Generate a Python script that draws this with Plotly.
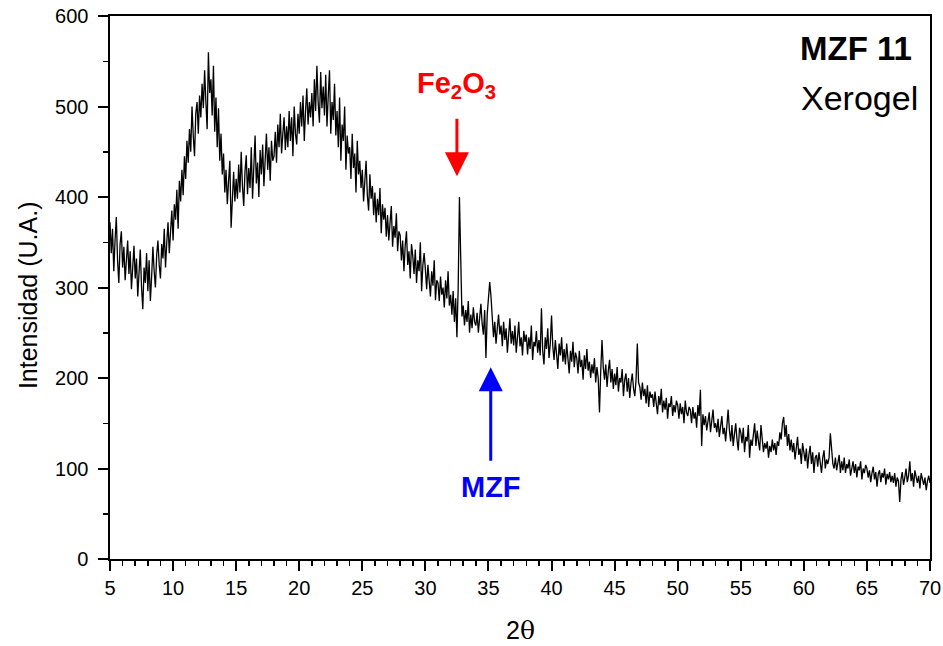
import numpy as np
import plotly.graph_objects as go

# 2-theta grid (instrument step)
two_theta_start = 5.0
two_theta_step = 0.1

# Intensity readings (U.A.), one row per degree of 2θ, 0.1° apart
intensity_05_20 = [
    372, 338, 365, 318, 352, 378, 330, 305, 348, 362,
    322, 345, 308, 336, 352, 315, 340, 298, 328, 346,
    310, 332, 290, 318, 342, 300, 276, 322, 305, 338,
    296, 330, 285, 312, 345, 318, 300, 336, 352, 325,
    310, 348, 332, 365, 322, 350, 372, 338, 360, 385,
    352, 392, 375, 408, 365, 418, 395, 430, 402, 445,
    420, 462, 438, 475, 450, 500, 468, 445, 492, 505,
    470, 512, 488, 525, 498, 540, 505, 475, 560, 515,
    530, 490, 545, 472, 510, 455, 498, 440, 470, 425,
    448, 405, 430, 392, 418, 440, 366, 402, 428, 395,
    420, 398, 436, 405, 450, 412, 390, 428, 446, 403,
    432, 410, 455, 398, 440, 468, 415, 438, 400, 452,
    425, 458, 412, 446, 470, 430, 455, 418, 462, 440,
    445, 472, 438, 480, 455, 492, 448, 470, 488, 452,
    478, 455, 495, 462, 488, 445, 500, 470, 458, 492,
]
intensity_20_35 = [
    470, 505, 478, 512, 462, 495, 520, 480, 505, 488,
    515, 478, 530, 495, 545, 505, 482, 538, 498, 522,
    490, 535, 478, 512, 540, 470, 505, 485, 525, 468,
    495, 455, 510, 440, 480, 462, 500, 430, 468, 448,
    455, 420, 470, 432, 448, 405, 462, 425, 440, 410,
    430, 395, 418, 440, 402, 385, 425, 398, 412, 380,
    405, 372, 398, 380, 410, 360, 392, 375, 388, 356,
    380, 352, 372, 390, 345, 368, 355, 382, 340, 362,
    358, 330, 352, 318, 346, 362, 325, 340, 310, 348,
    335, 315, 342, 305, 330, 318, 350, 296, 325, 338,
    320, 298, 325, 306, 290, 318, 302, 330, 286, 308,
    305, 285, 312, 292, 300, 278, 308, 288, 318, 280,
    292, 270, 296, 262, 288, 245, 300, 400, 328, 268,
    280, 258, 275, 262, 285, 250, 270, 255, 278, 262,
    258, 272, 250, 268, 282, 260, 248, 275, 222, 270,
]
intensity_35_50 = [
    295, 306, 290, 268, 245, 262, 238, 255, 270, 248,
    258, 235, 262, 242, 255, 228, 250, 266, 238, 252,
    236, 258, 228, 248, 262, 235, 245, 225, 252, 240,
    248, 226, 245, 232, 258, 220, 240, 235, 252, 228,
    242, 225, 277, 230, 215, 245, 232, 255, 222, 238,
    269, 235, 220, 242, 228, 210, 238, 225, 245, 218,
    232, 215, 238, 222, 205, 230, 218, 240, 212, 228,
    222, 205, 230, 212, 220, 198, 225, 210, 232, 208,
    218, 200, 215, 205, 222, 195, 212, 200, 162, 208,
    242, 212, 198, 215, 190, 208, 220, 195, 210, 188,
    205, 192, 212, 185, 200, 195, 210, 180, 198, 205,
    185, 200, 178, 195, 205, 188, 180, 198, 238, 195,
    190, 176, 195, 180, 188, 172, 192, 168, 185, 178,
    182, 168, 185, 172, 160, 180, 170, 188, 162, 175,
    165, 178, 155, 172, 168, 180, 158, 170, 162, 175,
]
intensity_50_70 = [
    170, 155, 172, 160, 168, 150, 175, 162, 158, 168,
    165, 150, 168, 155, 162, 145, 170, 158, 187, 125,
    160, 148, 158, 142, 155, 162, 140, 152, 165, 145,
    150, 140, 155, 135, 148, 158, 138, 145, 130, 150,
    165, 142, 130, 148, 125, 138, 150, 132, 120, 145,
    140, 128, 145, 118, 135, 130, 148, 112, 132, 125,
    138, 150, 125, 142, 130, 120, 148, 135, 118, 128,
    122, 130, 112, 125, 118, 132, 120, 128, 115, 130,
    125, 140, 132, 150, 157, 135, 148, 125, 138, 120,
    132, 118, 128, 110, 125, 135, 115, 122, 105, 128,
    118, 108, 122, 100, 115, 125, 105, 118, 95, 112,
    115, 102, 118, 108, 95, 112, 120, 100, 110, 105,
    112, 139, 118, 105, 100, 112, 98, 108, 115, 95,
    108, 98, 112, 95, 105, 100, 110, 92, 102, 108,
    95, 105, 90, 102, 98, 108, 88, 100, 95, 104,
    100, 90, 98, 85, 95, 102, 88, 96, 80, 94,
    98, 85, 95, 90, 100, 82, 94, 88, 96, 85,
    92, 84, 95, 80, 90, 86, 63, 88, 96, 82,
    90, 100, 85, 92, 108, 86, 95, 80, 98, 88,
    84, 92, 78, 95, 88, 82, 90, 76, 86, 92,
    84,
]

intensity = intensity_05_20 + intensity_20_35 + intensity_35_50 + intensity_50_70
two_theta = np.round(two_theta_start + two_theta_step * np.arange(len(intensity)), 2)

# Labels
x_title = "2<span style='font-family:DejaVu Serif'>θ</span>"
y_title = "Intensidad (U.A.)"
sample_label = "MZF 11"
state_label = "Xerogel"
fe_label = "Fe<sub>2</sub>O<sub>3</sub>"
mzf_label = "MZF"
fe_peak = (32.5, 423)
mzf_peak = (35.18, 212)

FONT = "Liberation Sans, Arial, sans-serif"

fig = go.Figure()
fig.add_trace(go.Scatter(
    x=two_theta, y=intensity, mode="lines",
    line=dict(color="black", width=1.3),
    showlegend=False, hoverinfo="skip",
))

axis_common = dict(
    showline=True, linecolor="black", linewidth=2, mirror=True,
    showgrid=False, zeroline=False, ticks="outside", tickcolor="black",
    tickwidth=2, tickfont=dict(family=FONT, size=20, color="black"),
    automargin=False, ticklen=10, ticklabeloverflow="allow",
)

fig.update_layout(
    width=943, height=646,
    margin=dict(l=110, r=13, t=16, b=87),
    paper_bgcolor="white", plot_bgcolor="white",
    font=dict(family=FONT, color="black"),
    xaxis=dict(
        range=[5, 70], dtick=5, tick0=5,
        minor=dict(dtick=1, ticks="outside", ticklen=5, tickwidth=1.5, tickcolor="black"),
        **axis_common,
    ),
    yaxis=dict(
        range=[0, 600], dtick=100, tick0=0, ticksuffix=" ",
        minor=dict(dtick=50, ticks="outside", ticklen=5, tickwidth=1.5, tickcolor="black"),
        **axis_common,
    ),
)

# axis titles
fig.add_annotation(
    xref="paper", yref="paper", x=0.5, y=-0.131, xanchor="center", yanchor="middle",
    text=x_title, showarrow=False, font=dict(family=FONT, size=25, color="black"),
)
fig.add_annotation(
    xref="paper", yref="paper", x=-0.1, y=0.486, xanchor="center", yanchor="middle",
    text=y_title, textangle=-90, showarrow=False, font=dict(family=FONT, size=25, color="black"),
)

fig.add_annotation(
    xref="paper", yref="paper", x=0.981, y=0.941, xanchor="right", yanchor="middle",
    text=f"<b>{sample_label}</b>", showarrow=False,
    font=dict(family=FONT, size=33, color="black"),
)
fig.add_annotation(
    xref="paper", yref="paper", x=0.988, y=0.849, xanchor="right", yanchor="middle",
    text=state_label, showarrow=False,
    font=dict(family=FONT, size=34, color="black"),
)
# Fe2O3 label with arrow pointing down to the peak
fig.add_annotation(
    x=fe_peak[0], y=fe_peak[1], ax=0, ay=-91, text=f"<b>{fe_label}</b>",
    showarrow=True, arrowhead=2, arrowsize=1.6, arrowwidth=3, arrowcolor="red",
    borderpad=15, font=dict(family=FONT, size=29, color="red"),
)
# MZF label with arrow pointing up to the reflection
fig.add_annotation(
    x=mzf_peak[0], y=mzf_peak[1], ax=0, ay=120, text=f"<b>{mzf_label}</b>",
    showarrow=True, arrowhead=2, arrowsize=1.6, arrowwidth=3, arrowcolor="blue",
    borderpad=10, font=dict(family=FONT, size=29, color="blue"),
)

fig.write_html(
    "out.html",
    config={"displayModeBar": False, "staticPlot": True},
    post_script="document.body.style.margin='0';",
)
